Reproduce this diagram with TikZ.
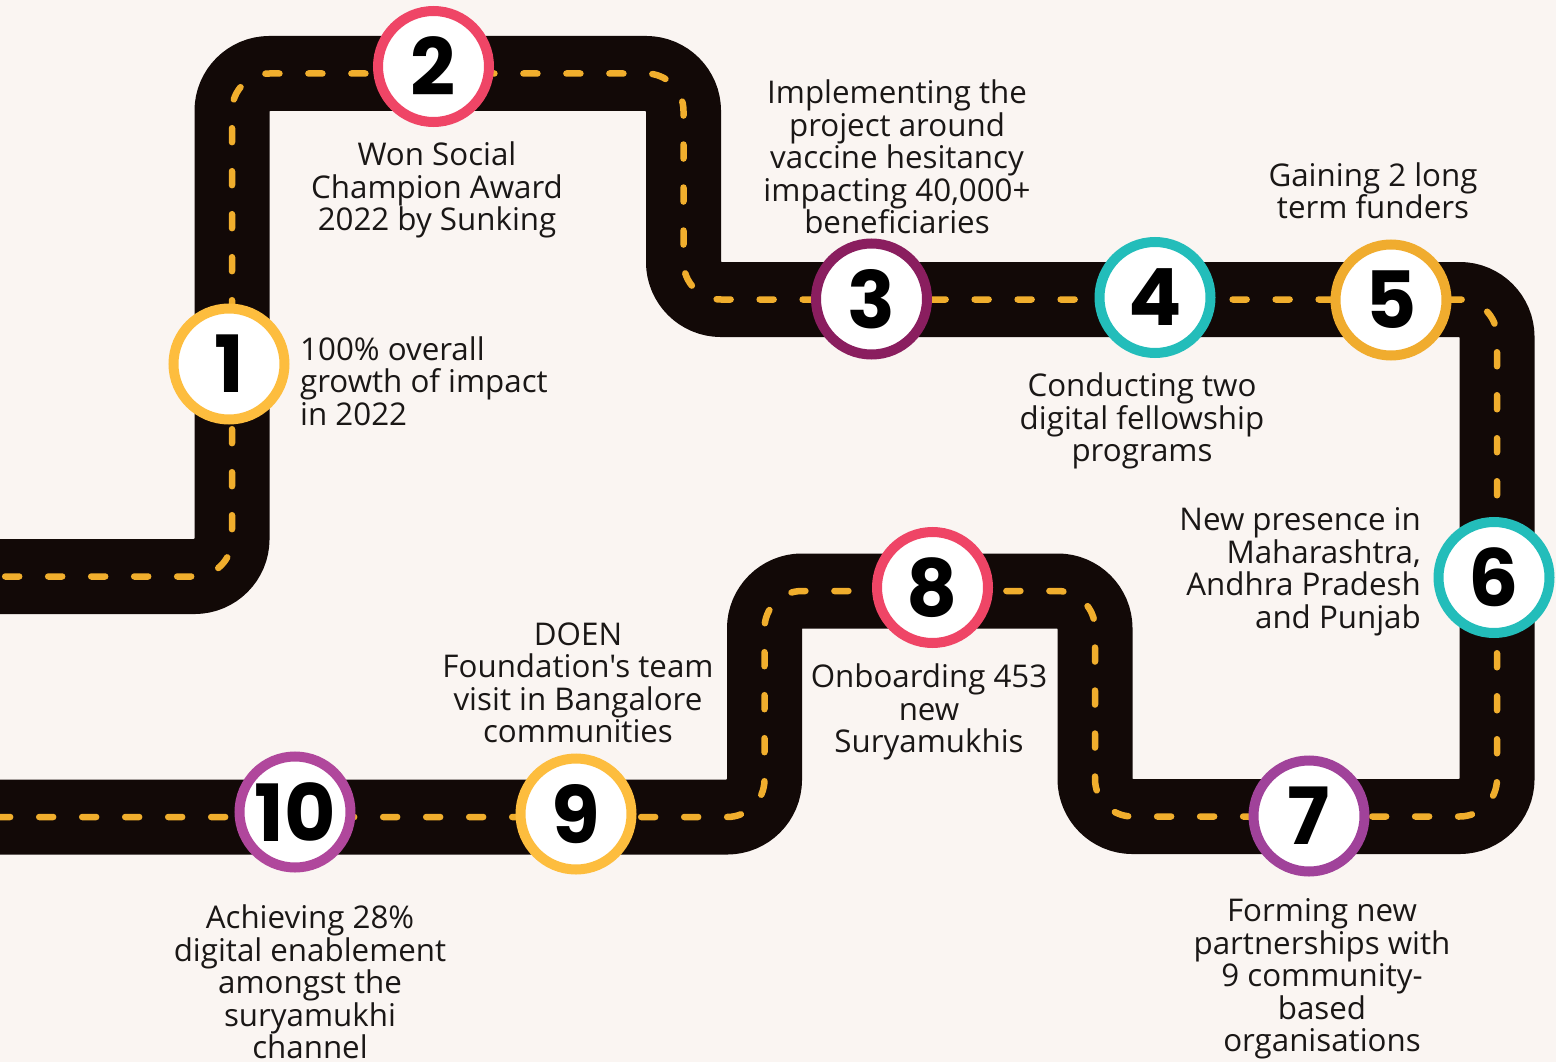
\documentclass[tikz,border=0pt]{standalone}
\usepackage{fontspec}
\defaultfontfeatures[\rmfamily]{}
\setmainfont{Open Sans}
\newfontfamily\numfont{Poppins}
\definecolor{bgc}{HTML}{FAF5F2}
\definecolor{roadc}{HTML}{120907}
\definecolor{lanec}{HTML}{F0AE2D}
\definecolor{txtc}{HTML}{1A1716}
\definecolor{cyellow}{HTML}{FDBD3E}
\definecolor{cpink}{HTML}{EF4566}
\definecolor{cplum}{HTML}{8A1E5F}
\definecolor{cteal}{HTML}{23BDBA}
\definecolor{corange}{HTML}{F0AC2E}
\definecolor{cviolet}{HTML}{A0429A}
\definecolor{cmagenta}{HTML}{B0479C}
\tikzset{
  road/.style={draw=roadc, line width=75pt, rounded corners=37.5pt},
  lane/.style={draw=lanec, line width=6.5pt, line cap=round, dash pattern=on 14pt off 29pt, rounded corners=37.5pt},
  milestone/.style={circle, draw=#1, line width=10pt, fill=white, minimum size=111pt, inner sep=0pt,
    text=black, font=\numfont\bfseries\fontsize{79}{79}\selectfont},
  lbl/.style={text=txtc, align=center, inner sep=0pt, font=\fontsize{31.3}{32.5}\selectfont}
}
\begin{document}
\begin{tikzpicture}[x=1pt,y=-1pt]
\fill[bgc] (0,0) rectangle (1556,1062);
\clip (0,0) rectangle (1556,1062);
% road centre line
\coordinate (p0) at (-37.8,576.5);
\coordinate (p1) at (232,576.5);
\coordinate (p2) at (232,73.5);
\coordinate (p3) at (683.5,73.5);
\coordinate (p4) at (683.5,299.5);
\coordinate (p5) at (1497,299.5);
\coordinate (p6) at (1497,816.5);
\coordinate (p7) at (1095,816.5);
\coordinate (p8) at (1095,591);
\coordinate (p9) at (764.5,591);
\coordinate (p10) at (764.5,817);
\coordinate (p11) at (-60,817);
\path[road] (p0) -- (p1) -- (p2) -- (p3) -- (p4) -- (p5) -- (p6) -- (p7) -- (p8) -- (p9) -- (p10) -- (p11);
\path[lane] (p0) -- (p1) -- (p2) -- (p3) -- (p4) -- (p5) -- (p6) -- (p7) -- (p8) -- (p9) -- (p10) -- (p11);
% milestones
\node[milestone=cyellow]  (c1)  at (229,364)   {1};
\node[milestone=cpink]    (c2)  at (433.5,66.5) {2};
\node[milestone=cplum]    (c3)  at (871.5,299) {3};
\node[milestone=cteal]    (c4)  at (1155,297.5) {4};
\node[milestone=corange]  (c5)  at (1391,300)  {5};
\node[milestone=cteal]    (c6)  at (1494,577.5) {6};
\node[milestone=cviolet]  (c7)  at (1309,816)  {7};
\node[milestone=cpink]    (c8)  at (932.5,587.5) {8};
\node[milestone=cyellow]  (c9)  at (576,814)   {9};
\node[milestone=cmagenta] (c10) at (295,812)   {10};
% labels
\node[lbl, anchor=west, align=left] (l1) at (300,381) {100\% overall\\growth of impact\\in 2022};
\node[lbl] (l2) at (437,190) {Won Social\\Champion Award\\2022 by Sunking};
\node[lbl] (l3) at (897,157) {Implementing the\\project around\\vaccine hesitancy\\impacting 40,000+\\beneficiaries};
\node[lbl] (l4) at (1142,421) {Conducting two\\digital fellowship\\programs};
\node[lbl] (l5) at (1373,191) {Gaining 2 long\\term funders};
\node[lbl, anchor=east, align=right] (l6) at (1421,572) {New presence in\\Maharashtra,\\Andhra Pradesh\\and Punjab};
\node[lbl] (l7) at (1322,979) {Forming new\\partnerships with\\9 community-\\based\\organisations};
\node[lbl] (l8) at (929,712) {Onboarding 453\\new\\Suryamukhis};
\node[lbl] (l9) at (578,683) {DOEN\\Foundation's team\\visit in Bangalore\\communities};
\node[lbl] (l10) at (310,982) {Achieving 28\%\\digital enablement\\amongst the\\suryamukhi\\channel};
\end{tikzpicture}
\end{document}
